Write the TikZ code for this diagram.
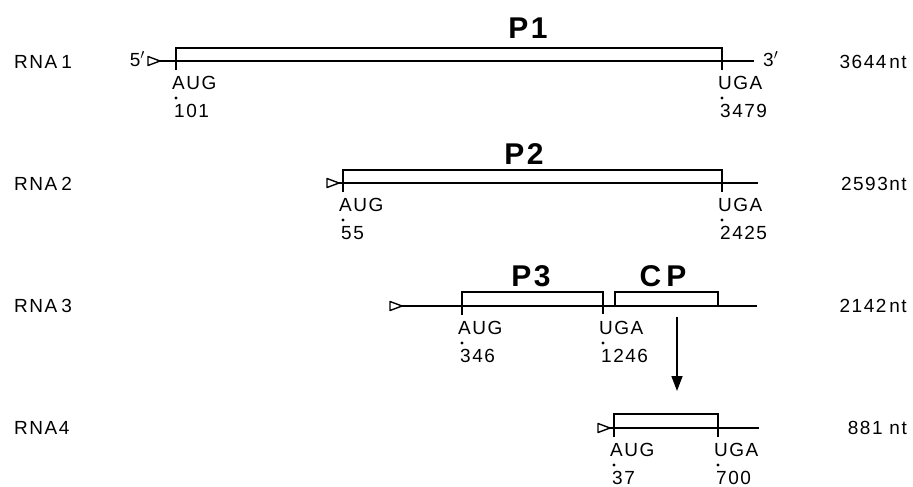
\documentclass[tikz,border=0pt]{standalone}
\usepackage{fontspec}
\usepackage{tikz}
\usetikzlibrary{calc,arrows.meta}
\setmainfont{Liberation Sans}
\newfontfamily\lblfont[LetterSpace=8]{Liberation Sans}
\newfontfamily\protfont[LetterSpace=8]{Liberation Sans Bold}

\begin{document}
\begin{tikzpicture}[x=1pt,y=-1pt,
  rna/.style={line width=2pt},
  orf/.style={line width=1.7pt},
  capmark/.style={line width=1.4pt,line join=round},
  lbl/.style={font=\lblfont\fontsize{19}{20}\selectfont,inner sep=0pt},
  cod/.style={lbl,anchor=west},
  prot/.style={font=\protfont\fontsize{30}{30}\selectfont,inner sep=0pt}]
\useasboundingbox (0,0) rectangle (913,487);
% RNA 1 : P1, AUG 101 -- UGA 3479
\coordinate (c1) at (160,61);
\coordinate (a1) at (176,61);
\coordinate (u1) at (722,61);
\coordinate (e1) at (754,61);
\draw[rna] (c1) -- (e1);
\draw[capmark] (c1) -- ++(-12,-4.5) -- ++(0,9) -- cycle;
\draw[orf] ($(a1)+(0,9)$) |- ($(u1)+(0,-13)$) -- ($(u1)+(0,9)$);
% RNA 2 : P2, AUG 55 -- UGA 2425
\coordinate (c2) at (339,183);
\coordinate (a2) at (343,183);
\coordinate (u2) at (722,183);
\coordinate (e2) at (758,183);
\draw[rna] (c2) -- (e2);
\draw[capmark] (c2) -- ++(-12,-4.5) -- ++(0,9) -- cycle;
\draw[orf] ($(a2)+(0,9)$) |- ($(u2)+(0,-13)$) -- ($(u2)+(0,9)$);
% RNA 3 : P3, AUG 346 -- UGA 1246, then the CP cistron
\coordinate (c3) at (402,306);
\coordinate (a3) at (462,306);
\coordinate (u3) at (603,306);
\coordinate (p3) at (615,306);
\coordinate (q3) at (718,306);
\coordinate (e3) at (757,306);
\draw[rna] (c3) -- (e3);
\draw[capmark] (c3) -- ++(-12,-4.5) -- ++(0,9) -- cycle;
\draw[orf] ($(a3)+(0,9)$) |- ($(u3)+(0,-14)$) -- ($(u3)+(0,8)$);
\draw[orf] (p3) |- ($(q3)+(0,-14)$) -- (q3);
% RNA 4 : CP, AUG 37 -- UGA 700
\coordinate (c4) at (610,428);
\coordinate (a4) at (614,428);
\coordinate (u4) at (718,428);
\coordinate (e4) at (759,428);
\draw[rna] (c4) -- (e4);
\draw[capmark] (c4) -- ++(-12,-4.5) -- ++(0,9) -- cycle;
\draw[orf] ($(a4)+(0,9)$) |- ($(u4)+(0,-14)$) -- ($(u4)+(0,9)$);
% subgenomic RNA 4 from RNA 3
\coordinate (cpfrom) at (677,317);
\coordinate (cpto) at (677,391);
\draw[line width=1.6pt,-{Triangle[length=15pt,width=11pt]}] (cpfrom) -- (cpto);
% start / stop codons with positions
\foreach \t/\n/\nm in {a1/AUG/101,u1/UGA/3479,a2/AUG/55,u2/UGA/2425,
                       a3/AUG/346,u3/UGA/1246,a4/AUG/37,u4/UGA/700} {
  \node[cod] (\t-cod) at ($(\t)+(-4,22)$) {\n};
  \fill ($(\t)+(0,37)$) circle (1.6);
  \node[cod] (\t-pos) at ($(\t)+(-2,50)$) {\nm};
}
% protein names
\node[prot] (P1) at (528,28) {P1};
\node[prot] (P2) at (524,154) {P2};
\node[prot] (P3) at (531,276) {P3};
\node[prot] (CP) at (663,276) {C\kern5pt P};
% ends
\node[lbl,anchor=east] (five) at (145,59) {5$'$};
\node[lbl,anchor=west] (three) at (763,59) {3$'$};
% names and lengths
\node[lbl,anchor=west] (r1) at (14,62) {RNA\kern4pt1};
\node[lbl,anchor=west] (r2) at (14,184) {RNA\kern4pt2};
\node[lbl,anchor=west] (r3) at (14,306) {RNA\kern4pt3};
\node[lbl,anchor=west] (r4) at (14,428) {RNA4};
\node[lbl,anchor=east] (l1) at (907,62) {3644\kern3pt nt};
\node[lbl,anchor=east] (l2) at (907,184) {2593nt};
\node[lbl,anchor=east] (l3) at (907,306) {2142\kern3pt nt};
\node[lbl,anchor=east] (l4) at (907,428) {881 nt};
\end{tikzpicture}
\end{document}
